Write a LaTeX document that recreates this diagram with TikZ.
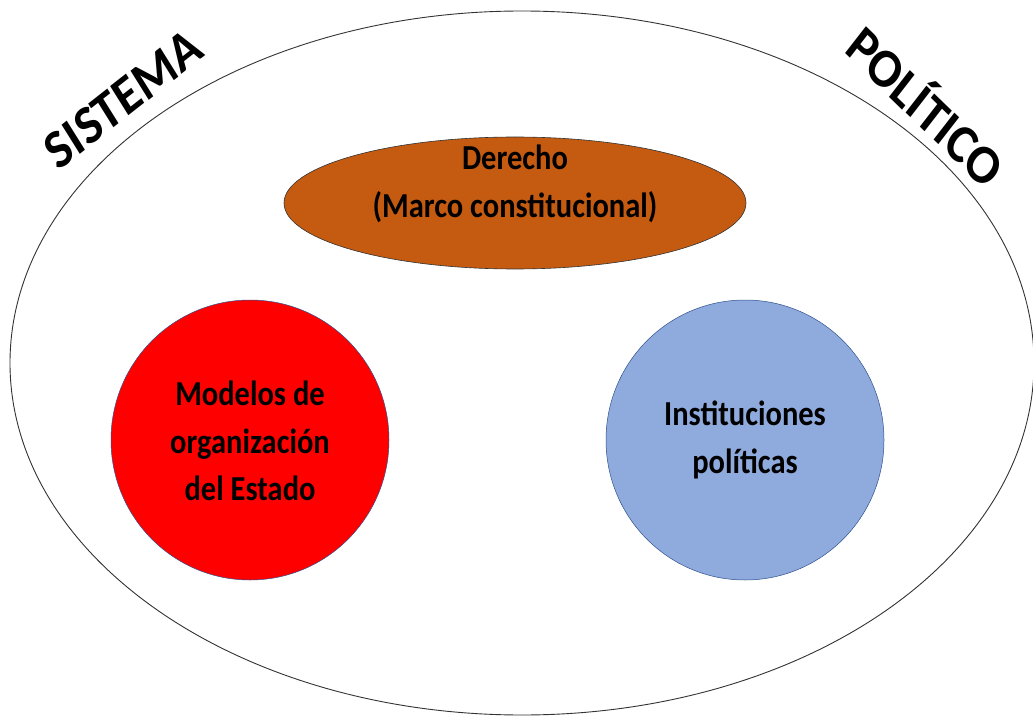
\documentclass[tikz,border=0pt]{standalone}
\usepackage{fontspec}
\setmainfont{Carlito}
\definecolor{brownfill}{HTML}{C55A11}
\definecolor{bluefill}{HTML}{8FAADC}
\definecolor{rimblue}{HTML}{2F528F}
\begin{document}
\begin{tikzpicture}[x=1pt,y=-1pt]

\useasboundingbox (0,0) rectangle (1033,719);

\tikzset{label/.style={font=\fontsize{30.5}{41.5}\selectfont\bfseries, align=center, text=black, yscale=1.15, transform shape}}
\tikzset{title/.style={font=\fontsize{49}{50}\selectfont\bfseries, text=black, yscale=1.12, transform shape}}

\draw [black!80, line width=0.9pt] (522,363) ellipse (512 and 352);

\draw [black!80, line width=0.6pt, fill=brownfill] (515,203) ellipse (231 and 66);
\draw [rimblue, line width=0.5pt, fill=red] (250,440) ellipse (139 and 140);
\draw [rimblue, line width=0.5pt, fill=bluefill] (745,440) ellipse (139 and 140);

\node [label] (derecho) at (515,184) {Derecho\\(Marco constitucional)};
\node [label] (modelos) at (250,441) {Modelos de\\organización\\del Estado};
\node [label] (instituciones) at (745,440) {Instituciones\\políticas};

\node [title, rotate=35] (sistema) at (123,99) {SISTEMA};
\node [title, rotate=-41] (politico) at (928,104) {POLÍTICO};
\end{tikzpicture}
\end{document}
